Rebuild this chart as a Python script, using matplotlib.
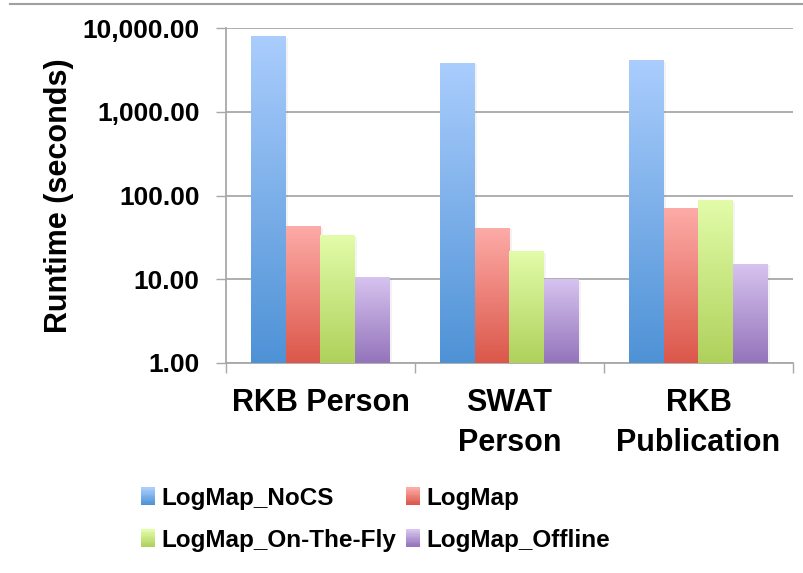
import matplotlib
matplotlib.use("Agg")
import matplotlib.pyplot as plt
import matplotlib.patheffects as pe
from matplotlib.colors import to_rgb
from matplotlib.lines import Line2D
from matplotlib.patches import Patch, Rectangle
from matplotlib.legend_handler import HandlerBase
from matplotlib.ticker import FixedLocator, FuncFormatter, NullLocator
import numpy as np

plt.rcParams['font.family'] = ['Liberation Sans', 'DejaVu Sans']
plt.rcParams['font.weight'] = 'bold'

categories = ["RKB Person", "SWAT\nPerson", "RKB\nPublication"]
series = ["LogMap_NoCS", "LogMap", "LogMap_On-The-Fly", "LogMap_Offline"]
nocs = [7850, 3820, 4040]
logmap = [42.1, 40.9, 69.0]
onthefly = [33.1, 21.2, 86.0]
offline = [10.6, 10.0, 15.2]
values = [nocs, logmap, onthefly, offline]

# gradient colours, top -> bottom
tops = ["#aacdfd", "#fdaba7", "#e2fca9", "#d6c3ef"]
bottoms = ["#4e92d6", "#db574a", "#afd15b", "#9474bb"]
grid_col = "#a8a8a8"


def grad(top, bot, n=256):
    t = np.linspace(0, 1, n)[:, None]
    a = np.array(to_rgb(top)); b = np.array(to_rgb(bot))
    return (a * (1 - t) + b * t)[:, None, :]


class GradHandler(HandlerBase):
    def __init__(self, top, bot):
        super().__init__()
        self.top, self.bot = top, bot

    def create_artists(self, legend, orig, xd, yd, w, h, fs, trans):
        arts = []
        n = 14
        g = grad(self.bot, self.top, n)[:, 0, :]
        for i in range(n):
            arts.append(Rectangle((xd, yd + h * i / n), w, h / n * 1.05,
                                  fc=g[i], ec='none', transform=trans))
        return arts


fig = plt.figure(figsize=(8.04, 5.73), dpi=100)
ax = fig.add_axes([226 / 804, 1 - 363 / 573, (793 - 226) / 804, (363 - 28) / 573])
ax.set_yscale('log')
ax.set_ylim(1, 10000)
ax.set_xlim(-0.5, 2.5)
ax.set_autoscale_on(False)

x = np.arange(len(categories))
w = 0.184
to_ax = ax.transData + ax.transAxes.inverted()
for k, vals in enumerate(values):
    xs = x + (k - 1.5) * w
    ax.bar(xs, vals, w, color=tops[k], zorder=2, linewidth=0,
           path_effects=[pe.SimplePatchShadow(offset=(1.5, -1), alpha=0.06), pe.Normal()])
    for xc, v in zip(xs, vals):
        x0, y0 = to_ax.transform((xc - w / 2, 1))
        x1, y1 = to_ax.transform((xc + w / 2, v))
        ax.imshow(grad(tops[k], bottoms[k]), extent=(x0, x1, y0, y1),
                  transform=ax.transAxes, aspect='auto', zorder=3,
                  interpolation='bilinear')

ax.set_ylim(1, 10000)
ax.set_xlim(-0.5, 2.5)

ax.set_axisbelow(True)
ax.yaxis.grid(True, color=grid_col, lw=1.3)
for s in ['top', 'right']:
    ax.spines[s].set_visible(False)
for s in ['left', 'bottom']:
    ax.spines[s].set_color(grid_col)
    ax.spines[s].set_linewidth(1.3)

ax.yaxis.set_major_locator(FixedLocator([1, 10, 100, 1000, 10000]))
ax.yaxis.set_minor_locator(NullLocator())
ax.yaxis.set_major_formatter(FuncFormatter(lambda v, p: f"{v:,.2f}"))
ax.tick_params(axis='y', which='major', length=7, width=1, color=grid_col,
               labelsize=19, pad=12)

ax.set_xticks(x)
ax.set_xticklabels(categories, fontsize=22, fontweight='bold', linespacing=1.42)
ax.set_xticks([-0.5, 0.5, 1.5, 2.5], minor=True)
ax.tick_params(axis='x', which='major', length=0, pad=18)
ax.tick_params(axis='x', which='minor', length=7, width=1, color=grid_col)

ax.set_ylabel("Runtime (seconds)", fontsize=22, fontweight='bold', labelpad=6)

proxies = [Patch(label=s) for s in series]
order = [0, 2, 1, 3]
hmap = {proxies[k]: GradHandler(tops[k], bottoms[k]) for k in range(4)}
fig.legend([proxies[k] for k in order], [series[k] for k in order],
           handler_map=hmap, loc='upper left',
           bbox_to_anchor=(141 / 804, 1 - 487 / 573), ncol=2, frameon=False,
           borderpad=0, borderaxespad=0, handlelength=0.58, handleheight=0.72,
           handletextpad=0.25, columnspacing=0.4, labelspacing=0.78,
           prop={'size': 17.5, 'weight': 'bold'})

fig.add_artist(Line2D([10 / 804, 1], [1 - 3.5 / 573] * 2, color='#a0a0a0',
                      lw=1.5, transform=fig.transFigure))

fig.savefig("out.png", dpi=100)
